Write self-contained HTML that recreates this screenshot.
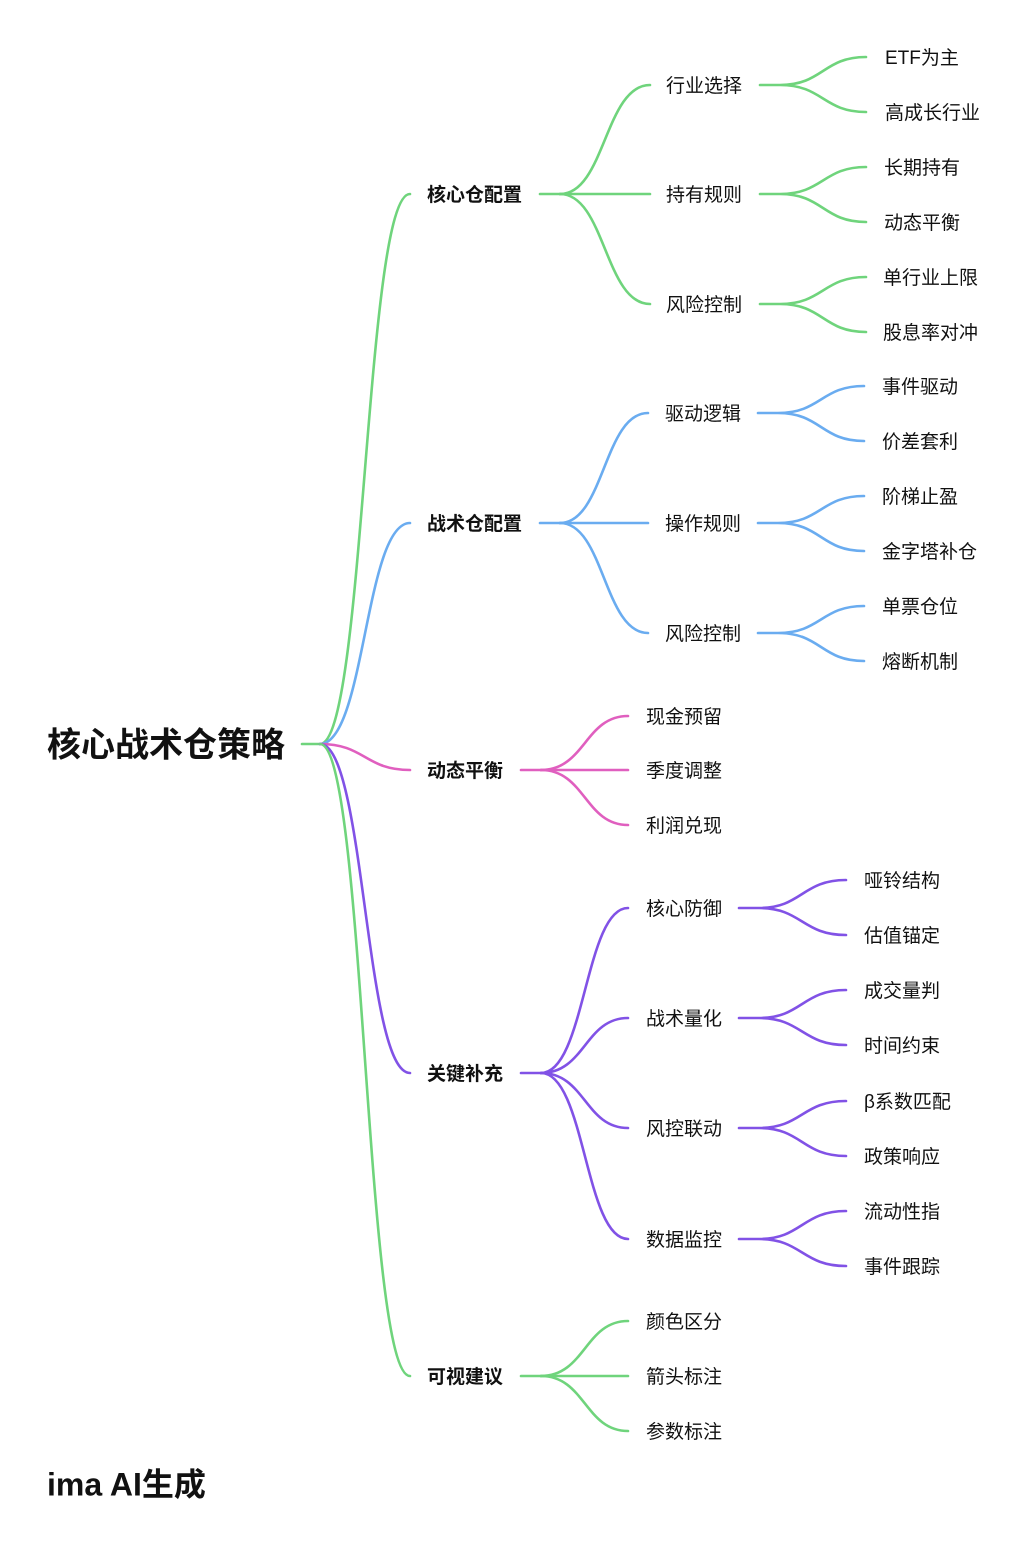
<!DOCTYPE html>
<html><head><meta charset="utf-8"><style>
html,body{margin:0;padding:0;background:#fff;}
svg{display:block;}
text{font-family:"Liberation Sans","Noto Sans CJK SC",sans-serif;fill:#111;dominant-baseline:central;}
.l2{font-size:19px;}
.l1{font-size:19px;font-weight:bold;}
</style></head><body>
<svg width="1024" height="1551" viewBox="0 0 1024 1551" fill="none" stroke-width="2.6" stroke-linecap="round">
<path d="M302 744 L320 744" stroke="#6fd47c"/>
<path d="M320 744 C365 744 365 194 410 194" stroke="#6fd47c"/>
<path d="M320 744 C365 744 365 523 410 523" stroke="#6aacf0"/>
<path d="M320 744 C365 744 365 770 410 770" stroke="#e05fbf"/>
<path d="M320 744 C365 744 365 1073 410 1073" stroke="#8152e6"/>
<path d="M320 744 C365 744 365 1376 410 1376" stroke="#6fd47c"/>

<g stroke="#6fd47c">
<path d="M540 194 L560 194"/>
<path d="M560 194 C605 194 605 85 650 85"/>
<path d="M560 194 L650 194"/>
<path d="M560 194 C605 194 605 304 650 304"/>
<path d="M760 85 L780 85 C823 85 823 57 866 57 M780 85 C823 85 823 112 866 112"/>
<path d="M760 194 L780 194 C823 194 823 167 866 167 M780 194 C823 194 823 222 866 222"/>
<path d="M760 304 L780 304 C823 304 823 277 866 277 M780 304 C823 304 823 332 866 332"/>
</g>
<g stroke="#6aacf0">
<path d="M540 523 L560 523"/>
<path d="M560 523 C604 523 604 413 648 413"/>
<path d="M560 523 L648 523"/>
<path d="M560 523 C604 523 604 633 648 633"/>
<path d="M758 413 L778 413 C821 413 821 386 864 386 M778 413 C821 413 821 441 864 441"/>
<path d="M758 523 L778 523 C821 523 821 496 864 496 M778 523 C821 523 821 551 864 551"/>
<path d="M758 633 L778 633 C821 633 821 606 864 606 M778 633 C821 633 821 661 864 661"/>
</g>
<g stroke="#e05fbf">
<path d="M521 770 L541 770"/>
<path d="M541 770 C585 770 585 716 628 716"/>
<path d="M541 770 L628 770"/>
<path d="M541 770 C585 770 585 825 628 825"/>
</g>
<g stroke="#8152e6">
<path d="M521 1073 L541 1073"/>
<path d="M541 1073 C585 1073 585 908 628 908"/>
<path d="M541 1073 C585 1073 585 1018 628 1018"/>
<path d="M541 1073 C585 1073 585 1128 628 1128"/>
<path d="M541 1073 C585 1073 585 1239 628 1239"/>
<path d="M739 908 L759 908 C802 908 802 880 846 880 M759 908 C802 908 802 935 846 935"/>
<path d="M739 1018 L759 1018 C802 1018 802 990 846 990 M759 1018 C802 1018 802 1045 846 1045"/>
<path d="M739 1128 L759 1128 C802 1128 802 1101 846 1101 M759 1128 C802 1128 802 1156 846 1156"/>
<path d="M739 1239 L759 1239 C802 1239 802 1211 846 1211 M759 1239 C802 1239 802 1266 846 1266"/>
</g>
<g stroke="#6fd47c">
<path d="M521 1376 L541 1376"/>
<path d="M541 1376 C585 1376 585 1321 628 1321"/>
<path d="M541 1376 L628 1376"/>
<path d="M541 1376 C585 1376 585 1431 628 1431"/>
</g>

<g transform="translate(0,1.5)">
<text x="47" y="744" style="font-size:34px;font-weight:bold">核心战术仓策略</text>
<text x="47" y="1483" style="font-size:32px;font-weight:bold">ima AI生成</text>

<text class="l1" x="427" y="194">核心仓配置</text>
<text class="l1" x="427" y="523">战术仓配置</text>
<text class="l1" x="427" y="770">动态平衡</text>
<text class="l1" x="427" y="1073">关键补充</text>
<text class="l1" x="427" y="1376">可视建议</text>

<text class="l2" x="666" y="85">行业选择</text>
<text class="l2" x="666" y="194">持有规则</text>
<text class="l2" x="666" y="304">风险控制</text>
<text class="l2" x="885" y="57">ETF为主</text>
<text class="l2" x="885" y="112">高成长行业</text>
<text class="l2" x="884" y="167">长期持有</text>
<text class="l2" x="884" y="222">动态平衡</text>
<text class="l2" x="883" y="277">单行业上限</text>
<text class="l2" x="883" y="332">股息率对冲</text>

<text class="l2" x="665" y="413">驱动逻辑</text>
<text class="l2" x="665" y="523">操作规则</text>
<text class="l2" x="665" y="633">风险控制</text>
<text class="l2" x="882" y="386">事件驱动</text>
<text class="l2" x="882" y="441">价差套利</text>
<text class="l2" x="882" y="496">阶梯止盈</text>
<text class="l2" x="882" y="551">金字塔补仓</text>
<text class="l2" x="882" y="606">单票仓位</text>
<text class="l2" x="882" y="661">熔断机制</text>

<text class="l2" x="646" y="716">现金预留</text>
<text class="l2" x="646" y="770">季度调整</text>
<text class="l2" x="646" y="825">利润兑现</text>

<text class="l2" x="646" y="908">核心防御</text>
<text class="l2" x="646" y="1018">战术量化</text>
<text class="l2" x="646" y="1128">风控联动</text>
<text class="l2" x="646" y="1239">数据监控</text>
<text class="l2" x="864" y="880">哑铃结构</text>
<text class="l2" x="864" y="935">估值锚定</text>
<text class="l2" x="864" y="990">成交量判</text>
<text class="l2" x="864" y="1045">时间约束</text>
<text class="l2" x="864" y="1101">β系数匹配</text>
<text class="l2" x="864" y="1156">政策响应</text>
<text class="l2" x="864" y="1211">流动性指</text>
<text class="l2" x="864" y="1266">事件跟踪</text>

<text class="l2" x="646" y="1321">颜色区分</text>
<text class="l2" x="646" y="1376">箭头标注</text>
<text class="l2" x="646" y="1431">参数标注</text>
</g>
</svg>
</body></html>
